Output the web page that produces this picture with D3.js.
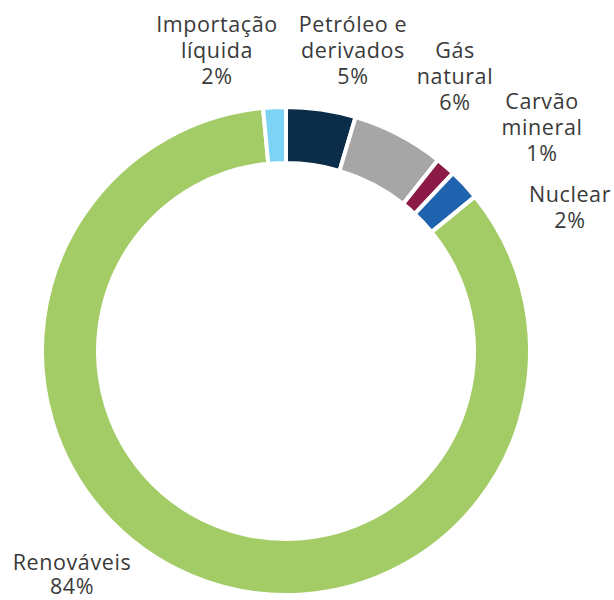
<!DOCTYPE html>
<html>
<head>
<meta charset="utf-8">
<script src="https://cdn.jsdelivr.net/npm/d3@7"></script>
<style>
  body { margin: 0; background: #fff; }
  svg text { font-family: "Open Sans", sans-serif; fill: #3a3a3a; }
</style>
</head>
<body>
<svg id="donut" width="614" height="600"></svg>
<script>
// Data (in clockwise order from 12 o'clock)
const categories = ["Petróleo e derivados", "Gás natural", "Carvão mineral", "Nuclear", "Renováveis", "Importação líquida"];
const shares = [4.6, 6.1, 1.3, 2.1, 84.4, 1.5];
const labelLines = [["Petróleo e", "derivados"], ["Gás", "natural"], ["Carvão", "mineral"], ["Nuclear"], ["Renováveis"], ["Importação", "líquida"]];
const colors = ["#0b2d4a", "#a6a6a6", "#8b1a47", "#1f62ae", "#a3cc66", "#7dd3f5"];

// Label anchors (centre x, first baseline) - placed by hand like the original
const labelAnchors = [[353, 32], [455, 58], [542, 109], [570, 202], [72, 570], [217, 32]];

const dims = { cx: 286, cy: 351, outer: 244, inner: 188, lineHeight: 26 };

const data = categories.map((c, i) => ({ name: c, value: shares[i], lines: labelLines[i] }));

const svg = d3.select("#donut");
const g = svg.append("g")
    .attr("transform", `translate(${dims.cx}, ${dims.cy})`);

const pie = d3.pie()
    .value(d => d.value)
    .sort(null);

const arc = d3.arc()
    .innerRadius(dims.inner)
    .outerRadius(dims.outer);

const colorScale = d3.scaleOrdinal()
    .domain(categories)
    .range(colors);

g.selectAll("path")
    .data(pie(data))
    .enter()
    .append("path")
    .attr("d", arc)
    .attr("fill", d => colorScale(d.data.name))
    .attr("stroke", "#fff")
    .attr("stroke-width", 4)
    .attr("stroke-linejoin", "miter");

// Labels
const labels = svg.selectAll(".label")
    .data(data)
    .enter()
    .append("text")
    .attr("class", "label")
    .attr("text-anchor", "middle")
    .style("font-size", "21.5px")
    .style("letter-spacing", "0.6px");

labels.each(function(d, i) {
    const t = d3.select(this);
    const [x, y] = labelAnchors[i];
    const lines = d.lines.concat([Math.round(d.value) + "%"]);
    lines.forEach((line, j) => {
        t.append("tspan")
            .attr("x", x)
            .attr("y", y + j * (i === 4 ? 24 : dims.lineHeight))
            .text(line);
    });
});
</script>
</body>
</html>
